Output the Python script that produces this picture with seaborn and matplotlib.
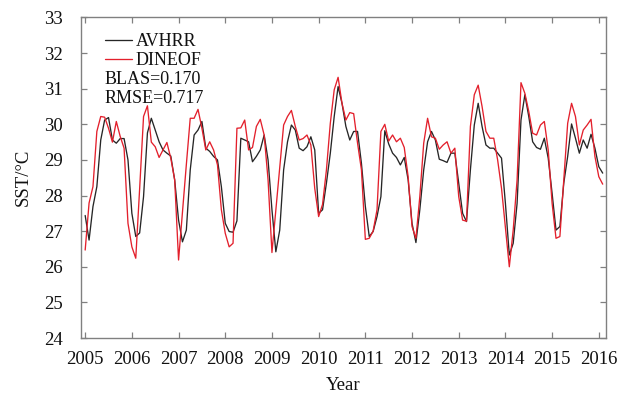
import numpy as np
import pandas as pd
import matplotlib
matplotlib.use("Agg")
import matplotlib.pyplot as plt
import seaborn as sns

# ---- data (monthly, Jan 2005 - Feb 2016) ----
avhrr = [27.44, 26.75, 27.69, 28.25, 29.56, 30.12, 30.19, 29.56, 29.47, 29.60, 29.60, 29.00,
         27.50, 26.85, 26.95, 27.97, 29.76, 30.17, 29.84, 29.51, 29.28, 29.19, 29.11, 28.44,
         27.31, 26.70, 27.03, 28.72, 29.70, 29.84, 30.08, 29.33, 29.24, 29.10, 29.00, 28.25,
         27.22, 26.99, 26.97, 27.29, 29.61, 29.56, 29.51, 28.95, 29.10, 29.28, 29.70, 29.00,
         27.60, 26.42, 27.03, 28.72, 29.51, 29.98, 29.84, 29.33, 29.26, 29.37, 29.65, 29.28,
         27.50, 27.60, 28.35, 29.19, 30.22, 31.06, 30.59, 29.94, 29.56, 29.80, 29.80, 28.90,
         27.70, 26.85, 26.99, 27.41, 27.97, 29.82, 29.45, 29.19, 29.07, 28.86, 29.07, 28.44,
         27.22, 26.68, 27.60, 28.72, 29.51, 29.80, 29.56, 29.02, 28.98, 28.93, 29.19, 29.19,
         28.35, 27.50, 27.27, 28.72, 29.98, 30.59, 29.94, 29.42, 29.33, 29.33, 29.19, 29.05,
         27.78, 26.33, 26.66, 27.78, 30.12, 30.83, 30.22, 29.51, 29.35, 29.30, 29.61, 29.05,
         28.06, 27.03, 27.13, 28.35, 29.10, 30.01, 29.61, 29.19, 29.56, 29.33, 29.72, 29.33,
         28.81, 28.63]
dineof = [26.47, 27.79, 28.25, 29.80, 30.22, 30.20, 29.89, 29.50, 30.08, 29.66, 29.33, 27.22,
          26.56, 26.24, 28.20, 30.22, 30.52, 29.50, 29.37, 29.07, 29.28, 29.49, 29.05, 28.44,
          26.19, 27.54, 28.87, 30.17, 30.17, 30.42, 29.89, 29.28, 29.51, 29.28, 28.86, 27.60,
          26.94, 26.56, 26.66, 29.89, 29.90, 30.12, 29.28, 29.35, 29.94, 30.14, 29.70, 28.44,
          26.40, 27.60, 28.79, 29.98, 30.22, 30.39, 29.94, 29.56, 29.60, 29.70, 29.42, 28.20,
          27.41, 27.75, 28.72, 30.03, 30.97, 31.32, 30.59, 30.12, 30.33, 30.30, 29.47, 28.72,
          26.77, 26.80, 27.00, 27.60, 29.80, 30.00, 29.53, 29.70, 29.51, 29.61, 29.35, 28.53,
          27.13, 26.80, 27.97, 29.47, 30.17, 29.65, 29.61, 29.30, 29.42, 29.51, 29.19, 29.33,
          27.97, 27.31, 27.28, 29.94, 30.83, 31.10, 30.50, 29.80, 29.61, 29.61, 29.00, 28.20,
          27.10, 26.00, 27.03, 28.44, 31.17, 30.87, 30.36, 29.75, 29.70, 29.98, 30.08, 29.28,
          27.78, 26.80, 26.85, 28.44, 30.03, 30.59, 30.22, 29.42, 29.84, 29.98, 30.14, 29.10,
          28.53, 28.32]
start_year = 2005
year_ticks = list(range(2005, 2017))
y_ticks = list(range(24, 34))
stats_text = ["BLAS=0.170", "RMSE=0.717"]

t = start_year + np.arange(len(avhrr)) / 12.0
df = pd.DataFrame({
    "Year": np.concatenate([t, t]),
    "SST": avhrr + dineof,
    "Source": ["AVHRR"] * len(avhrr) + ["DINEOF"] * len(dineof),
})

sns.set_theme(style="ticks")
plt.rcParams["font.family"] = ["Liberation Serif", "DejaVu Serif"]

fig = plt.figure(figsize=(6.27, 4.01), dpi=100)
ax = fig.add_axes([0.1287, 0.1571, 0.9665 - 0.1287, 0.9564 - 0.1571])

sns.lineplot(data=df, x="Year", y="SST", hue="Source",
             palette={"AVHRR": "#262626", "DINEOF": "#e3202c"},
             linewidth=0.95, ax=ax, estimator=None, sort=False)

ax.set_xlim(2004.904, 2016.154)
ax.set_ylim(24, 33)
ax.set_xticks(year_ticks)
ax.set_xticklabels([str(y) for y in year_ticks])
ax.set_yticks(y_ticks)
ax.tick_params(direction="in", length=4, width=0.9, color="#808080",
               top=True, right=True, labelsize=13.5, labelcolor="#111111")
ax.tick_params(axis="y", pad=13)
ax.tick_params(axis="x", pad=9)
for s in ax.spines.values():
    s.set_color("#808080")
    s.set_linewidth(1.0)

ax.set_xlabel("Year", fontsize=13.5, color="#111111", labelpad=7)
ax.set_ylabel("SST/°C", fontsize=13.5, color="#111111", labelpad=9)

leg = ax.legend(loc="upper left", bbox_to_anchor=(0.046, 0.952), frameon=False,
                fontsize=13, handlelength=1.5, handletextpad=0.2,
                labelspacing=0.12, borderpad=0.0, borderaxespad=0.0)
for txt in leg.get_texts():
    txt.set_color("#111111")

ax.text(0.046, 0.808, stats_text[0], transform=ax.transAxes, fontsize=13,
        va="center", ha="left", color="#111111")
ax.text(0.046, 0.748, stats_text[1], transform=ax.transAxes, fontsize=13,
        va="center", ha="left", color="#111111")

fig.savefig("out.png", dpi=100)
